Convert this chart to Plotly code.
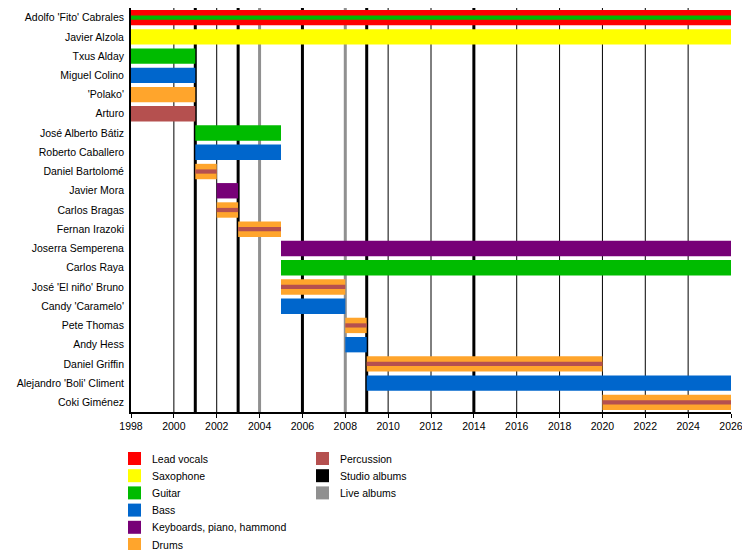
import plotly.graph_objects as go

# members, top to bottom
names = ["Adolfo 'Fito' Cabrales", "Javier Alzola", "Txus Alday", "Miguel Colino", "'Polako'",
         "Arturo", "José Alberto Bátiz", "Roberto Caballero", "Daniel Bartolomé", "Javier Mora",
         "Carlos Bragas", "Fernan Irazoki", "Joserra Semperena", "Carlos Raya",
         "José 'El niño' Bruno", "Candy 'Caramelo'", "Pete Thomas", "Andy Hess",
         "Daniel Griffin", "Alejandro 'Boli' Climent", "Coki Giménez"]
start = [1998, 1998, 1998, 1998, 1998, 1998, 2001, 2001, 2001, 2002, 2002, 2003, 2005, 2005,
         2005, 2005, 2008, 2008, 2009, 2009, 2020]
end = [2026, 2026, 2001, 2001, 2001, 2001, 2005, 2005, 2002, 2003, 2003, 2005, 2026, 2026,
       2008, 2008, 2009, 2009, 2020, 2026, 2026]
role = ["Lead vocals", "Saxophone", "Guitar", "Bass", "Drums", "Percussion", "Guitar", "Bass",
        "Drums", "Keyboards, piano, hammond", "Drums", "Drums", "Keyboards, piano, hammond",
        "Guitar", "Drums", "Bass", "Drums", "Bass", "Drums", "Bass", "Drums"]
stripe = ["Guitar", None, None, None, None, None, None, None, "Percussion", None, "Percussion",
          "Percussion", None, None, "Percussion", None, "Percussion", None, "Percussion", None,
          "Percussion"]

studio_albums = [2001, 2003, 2006, 2009, 2014]
live_albums = [2004, 2008]
grid_years = list(range(2000, 2026, 2))

colors = {"Lead vocals": "#FF0000", "Saxophone": "#FFFF00", "Guitar": "#00BB00",
          "Bass": "#0066CC", "Keyboards, piano, hammond": "#770077", "Drums": "#FFA52C",
          "Percussion": "#B5504F", "Studio albums": "#000000", "Live albums": "#909090"}

fig = go.Figure()
fig.add_trace(go.Bar(y=names, x=[e - s for s, e in zip(start, end)], base=start,
                     orientation="h", width=0.8,
                     marker=dict(color=[colors[r] for r in role], line_width=0),
                     showlegend=False))
idx = [i for i, s in enumerate(stripe) if s]
fig.add_trace(go.Bar(y=[names[i] for i in idx], x=[end[i] - start[i] for i in idx],
                     base=[start[i] for i in idx], orientation="h", width=0.22,
                     marker=dict(color=[colors[stripe[i]] for i in idx], line_width=0),
                     showlegend=False))

for yr in grid_years:
    fig.add_vline(x=yr, line_color="black", line_width=1, layer="below")
for yr in live_albums:
    fig.add_vline(x=yr, line_color="#909090", line_width=3, layer="below")
for yr in studio_albums:
    fig.add_vline(x=yr, line_color="black", line_width=3, layer="below")

# legend drawn by hand in two columns
legend_items = ["Lead vocals", "Saxophone", "Guitar", "Bass", "Keyboards, piano, hammond",
                "Drums", "Percussion", "Studio albums", "Live albums"]
for i, item in enumerate(legend_items):
    col, row = divmod(i, 6)
    x0 = 128 + col * 188
    y0 = 452 + row * 17.2
    fig.add_shape(type="rect", xref="paper", yref="paper",
                  x0=(x0 - 131) / 600, x1=(x0 + 13 - 131) / 600,
                  y0=(412 - y0 - 13) / 404, y1=(412 - y0) / 404,
                  fillcolor=colors[item], line_width=0)
    fig.add_annotation(text=item, xref="paper", yref="paper", x=(x0 + 22 - 131) / 600,
                       y=(412 - y0 - 6.5) / 404, xanchor="left", yanchor="middle",
                       showarrow=False, font=dict(size=10.5, color="black"))

fig.update_layout(width=750, height=550, margin=dict(l=123, r=27, t=0, b=146),
                  barmode="overlay", plot_bgcolor="white", paper_bgcolor="white",
                  font=dict(family="Liberation Sans, Arial", size=10.5, color="black"))
fig.update_xaxes(range=[1998, 2026], dtick=2, showgrid=False,
                 showline=True, linecolor="black", linewidth=1.5, ticks="outside",
                 ticklen=4, tickcolor="black", zeroline=False, fixedrange=True)
fig.update_yaxes(autorange="reversed", showgrid=False, showline=True, linecolor="black",
                 linewidth=2, ticks="", ticksuffix=" ")
fig.write_html("out.html")
